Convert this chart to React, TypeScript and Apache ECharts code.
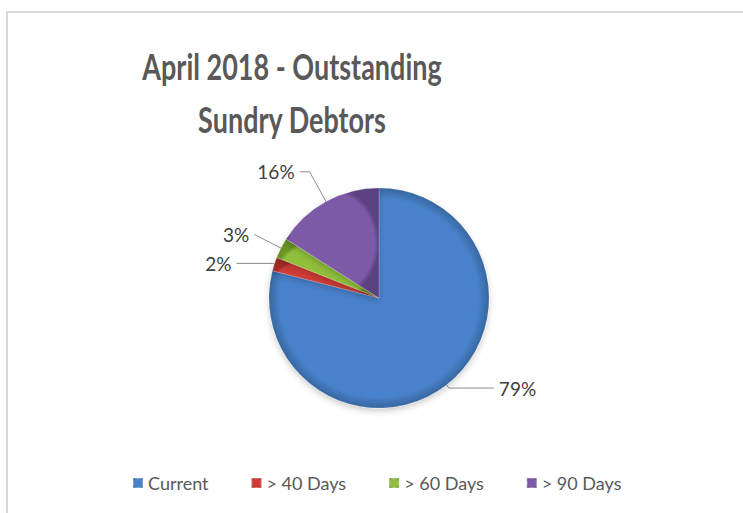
import React, { useEffect, useRef } from "react";
import * as echarts from "echarts";

const categories = ["Current", "> 40 Days", "> 60 Days", "> 90 Days"];
const values = [79, 2, 3, 16];
const baseColors = ["#4a82cc", "#d03b36", "#8fbf3a", "#7d5aa8"];
const edgeColors = ["#36679f", "#a32a26", "#6a9226", "#5d4282"];
const titleLines = ["April 2018 - Outstanding", "Sundry Debtors"];
const lineLengths = [
  [4, 45],
  [2, 36],
  [30, 0],
  [34, 10],
];

function grad(i: number) {
  return new echarts.graphic.RadialGradient(0.5, 0.5, 0.5, [
    { offset: 0, color: baseColors[i] },
    { offset: 0.9, color: baseColors[i] },
    { offset: 1, color: edgeColors[i] },
  ]);
}

export default function App() {
  const ref = useRef<HTMLDivElement>(null);
  useEffect(() => {
    if (!ref.current) return;
    const chart = echarts.init(ref.current, undefined, { renderer: "svg" });
    const titleStyle = {
      fontFamily: "Lato",
      fontWeight: "bold",
      fontSize: 27,
      fill: "#595959",
      align: "center",
      verticalAlign: "middle",
    };
    chart.setOption({
      animation: false,
      backgroundColor: "#ffffff",
      graphic: [
        {
          type: "rect",
          shape: { x: 7, y: 12, width: 800, height: 600 },
          style: { fill: "none", stroke: "#d9d9d9", lineWidth: 2 },
          silent: true,
        },
        {
          type: "text",
          x: 292,
          y: 66,
          scaleY: 1.32,
          style: { ...titleStyle, text: titleLines[0] },
          silent: true,
        },
        {
          type: "text",
          x: 292,
          y: 119,
          scaleY: 1.32,
          style: { ...titleStyle, text: titleLines[1] },
          silent: true,
        },
      ],
      legend: {
        data: categories,
        left: 127,
        top: 469,
        itemWidth: 10,
        itemHeight: 10,
        itemGap: 42,
        icon: "rect",
        textStyle: { fontFamily: "Lato", fontSize: 18, color: "#595959" },
      },
      series: [
        {
          type: "pie",
          center: [379, 298],
          radius: 110,
          startAngle: 90,
          clockwise: true,
          avoidLabelOverlap: false,
          label: {
            show: true,
            formatter: "{d}%",
            fontFamily: "Lato",
            fontSize: 19,
            color: "#404040",
          },
          labelLine: {
            show: true,
            lineStyle: { color: "#8c8c8c", width: 1 },
          },
          itemStyle: {
            borderColor: "rgba(255,255,255,0.3)",
            borderWidth: 0.5,
            shadowBlur: 6,
            shadowColor: "rgba(0,0,0,0.2)",
            shadowOffsetY: 3,
          },
          data: categories.map((name, i) => ({
            name,
            value: values[i],
            itemStyle: { color: grad(i) },
            labelLine: { length: lineLengths[i][0], length2: lineLengths[i][1] },
          })),
        },
      ],
      color: baseColors,
    });
    return () => chart.dispose();
  }, []);
  return (
    <div
      ref={ref}
      style={{ position: "fixed", left: 0, top: 0, width: 743, height: 513 }}
    />
  );
}
